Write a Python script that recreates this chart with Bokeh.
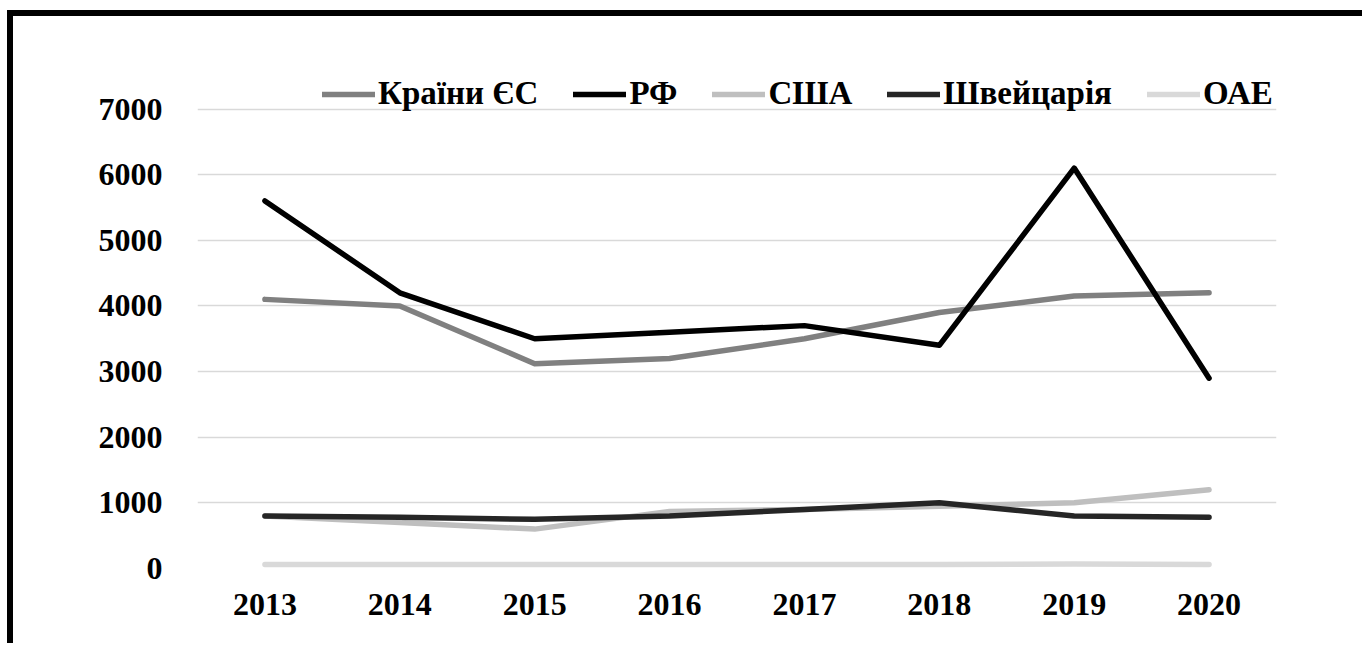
from bokeh.plotting import figure
from bokeh.models import FactorRange, Range1d, FixedTicker, Legend, LegendItem
from bokeh.embed import file_html
from bokeh.resources import INLINE

years = ["2013", "2014", "2015", "2016", "2017", "2018", "2019", "2020"]
eu = [4100, 4000, 3120, 3200, 3500, 3900, 4150, 4200]
rf = [5600, 4200, 3500, 3600, 3700, 3400, 6100, 2900]
usa = [800, 700, 600, 870, 900, 950, 1000, 1200]
swiss = [800, 780, 750, 800, 900, 1000, 800, 780]
uae = [60, 60, 60, 60, 60, 60, 70, 60]
series_names = ["Країни ЄС", "РФ", "США", "Швейцарія", "ОАЕ"]
series_colors = ["#808080", "#000000", "#bfbfbf", "#262626", "#d9d9d9"]
y_ticks = [0, 1000, 2000, 3000, 4000, 5000, 6000, 7000]

FONT = "Liberation Serif"

p = figure(
    x_range=FactorRange(*years, range_padding=0),
    y_range=Range1d(0, 7800),
    width=1355, height=633,
    output_backend="svg", toolbar_location=None,
    min_border_left=184, min_border_right=92,
    min_border_top=40, min_border_bottom=81,
)
p.styles = {"border-top": "6px solid black", "border-left": "6px solid black",
            "margin-left": "7px", "margin-top": "10px"}
p.outline_line_color = None
p.background_fill_color = "white"
p.border_fill_color = "white"

data = [eu, rf, usa, swiss, uae]
renderers = []
for vals, color in zip(data, series_colors):
    r = p.line(years, vals, line_color=color, line_width=5.5,
               line_cap="round", line_join="round")
    renderers.append(r)

legend = Legend(
    items=[LegendItem(label=n, renderers=[r]) for n, r in zip(series_names, renderers)],
    orientation="horizontal",
    location=(125, 456),
    padding=0, margin=0, spacing=35,
    glyph_width=53, glyph_height=20, label_standoff=3,
    label_text_font=FONT, label_text_font_style="bold",
    label_text_font_size="33px", label_text_color="black",
    border_line_color=None, background_fill_alpha=0,
)
p.add_layout(legend, "center")

p.xgrid.grid_line_color = None
p.ygrid.grid_line_color = "#d9d9d9"
p.ygrid.grid_line_width = 1.5
p.yaxis.ticker = FixedTicker(ticks=y_ticks)

for ax in (p.xaxis[0], p.yaxis[0]):
    ax.axis_line_color = None
    ax.major_tick_line_color = None
    ax.minor_tick_line_color = None
    ax.major_label_text_font = FONT
    ax.major_label_text_font_style = "bold"
    ax.major_label_text_font_size = "32px"
    ax.major_label_text_color = "black"
p.yaxis.major_label_standoff = 29
p.xaxis.major_label_standoff = 19

open("out.html", "w").write(file_html(p, INLINE))
